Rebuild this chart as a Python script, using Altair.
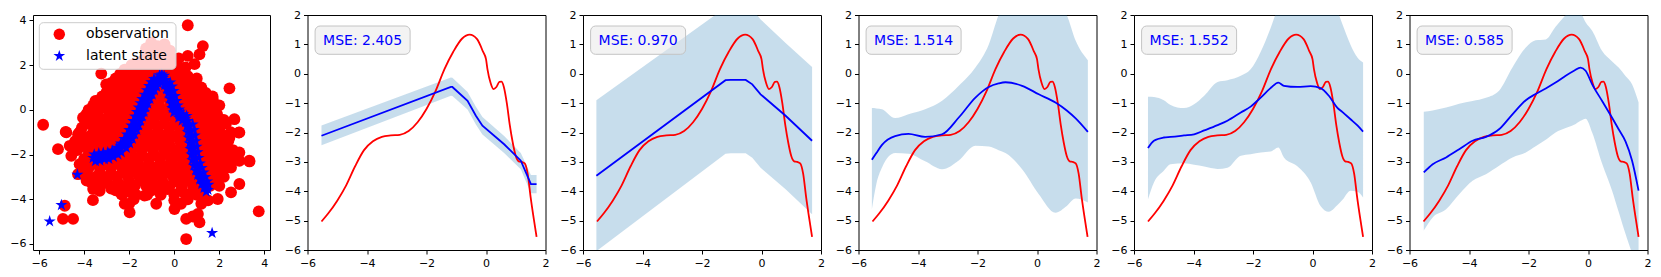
import altair as alt
import pandas as pd

FONT = "DejaVu Sans"
STAR = ("M0,-1L0.2245,-0.309L0.951,-0.309L0.363,0.118L0.588,0.809L0,0.382"
        "L-0.588,0.809L-0.363,0.118L-0.951,-0.309L-0.2245,-0.309Z")

# ---------------- shared true latent function (red) ----------------
true_x = [-5.53, -5.3, -5.0, -4.7, -4.4, -4.1, -3.8, -3.5, -3.2, -2.9, -2.6, -2.3, -2.0, -1.7,
          -1.4, -1.1, -0.8, -0.55, -0.3, -0.1, 0.0, 0.05, 0.15, 0.25, 0.35, 0.45, 0.52, 0.6,
          0.7, 0.8, 0.9, 1.0, 1.1, 1.2, 1.3, 1.4, 1.5, 1.6, 1.7]
true_y = [-5.03, -4.75, -4.32, -3.8, -3.15, -2.6, -2.3, -2.15, -2.1, -2.08, -1.95, -1.65, -1.2, -0.6,
          0.15, 0.75, 1.2, 1.33, 1.18, 0.75, 0.5, 0.15, -0.3, -0.52, -0.45, -0.28, -0.27, -0.45,
          -1.0, -1.75, -2.35, -2.8, -2.98, -3.0, -3.05, -3.4, -4.2, -4.9, -5.55]

mse_labels = ["MSE: 2.405", "MSE: 0.970", "MSE: 1.514", "MSE: 1.552", "MSE: 0.585"]

# ---------------- panel 2 ----------------
p2_x = [-5.53, -1.18, -1.13, -0.62, -0.34, -0.12, 0.61, 1.17, 1.51, 1.70]
p2_mean = [-2.11, -0.45, -0.45, -0.92, -1.43, -1.77, -2.40, -2.96, -3.76, -3.76]
p2_hi = [-1.76, -0.13, -0.14, -0.62, -1.12, -1.47, -2.12, -2.70, -3.45, -3.45]
p2_lo = [-2.43, -0.75, -0.76, -1.22, -1.73, -2.07, -2.70, -3.25, -4.07, -4.07]

# ---------------- panel 3 ----------------
p3_x = [-5.55, -1.21, -1.04, -0.53, -0.31, -0.03, 0.81, 1.70]
p3_mean = [-3.47, -0.22, -0.21, -0.21, -0.36, -0.70, -1.43, -2.28]
p3_hi = [-0.90, 2.25, 2.26, 2.26, 2.2, 1.85, 1.05, 0.23]
p3_lo = [-6.04, -2.72, -2.71, -2.71, -2.86, -3.2, -3.93, -4.78]

# ---------------- panel 4 ----------------
p4_x = [-5.55, -5.4, -5.21, -4.77, -4.32, -3.76, -3.19, -2.63, -2.07, -1.62, -1.29, -1.06,
        -0.5, 0.06, 0.62, 1.0, 1.3, 1.71]
p4_mean = [-2.93, -2.7, -2.42, -2.12, -2.05, -2.15, -2.06, -1.49, -0.81, -0.45, -0.33, -0.29,
           -0.41, -0.70, -0.98, -1.25, -1.52, -1.98]
p4_hi = [-1.17, -1.18, -1.21, -1.51, -1.38, -1.21, -0.92, -0.41, 0.21, 1.0, 2.0, 2.5,
         2.8, 2.8, 2.5, 2.0, 1.12, 0.46]
p4_lo = [-4.61, -3.75, -3.19, -2.7, -2.72, -2.98, -3.25, -2.95, -2.45, -2.48, -2.6, -2.7,
         -3.25, -4.10, -4.73, -4.5, -4.25, -4.38]

# ---------------- panel 5 ----------------
p5_x = [-5.53, -5.33, -5.0, -4.77, -4.32, -3.98, -3.64, -3.19, -2.86, -2.41, -2.08, -1.74,
        -1.41, -1.15, -0.96, -0.51, -0.06, 0.27, 0.55, 0.83, 1.0, 1.28, 1.51, 1.70]
p5_mean = [-2.53, -2.28, -2.17, -2.15, -2.10, -2.06, -1.93, -1.75, -1.6, -1.32, -1.12, -0.81,
           -0.49, -0.30, -0.41, -0.45, -0.42, -0.49, -0.75, -1.15, -1.3, -1.55, -1.76, -1.97]
p5_hi = [-0.78, -0.79, -0.9, -1.06, -1.17, -1.04, -0.75, -0.28, -0.22, -0.07, 0.15, 0.75,
         1.55, 2.3, 2.8, 3.0, 3.0, 2.8, 2.4, 2.15, 1.7, 0.98, 0.55, 0.38]
p5_lo = [-4.27, -3.7, -3.3, -3.08, -3.05, -3.1, -3.16, -3.24, -3.2, -2.79, -2.74, -2.68,
         -2.65, -2.51, -2.85, -3.15, -3.70, -4.5, -4.70, -4.48, -4.3, -3.98, -4.02, -4.21]

# ---------------- panel 6 ----------------
p6_x = [-5.52, -5.22, -4.77, -4.33, -3.88, -3.43, -2.99, -2.54, -2.09, -1.76, -1.42, -1.09,
        -0.75, -0.47, -0.25, -0.08, 0.14, 0.47, 0.81, 1.03, 1.26, 1.48, 1.70]
p6_mean = [-3.36, -3.08, -2.85, -2.57, -2.28, -2.15, -1.89, -1.38, -0.90, -0.69, -0.5, -0.3,
           -0.07, 0.10, 0.21, 0.10, -0.36, -0.92, -1.5, -1.89, -2.3, -2.95, -3.98]
p6_hi = [-1.29, -1.25, -1.15, -1.02, -0.93, -0.82, -0.58, 0.21, 0.89, 1.14, 1.17, 1.6,
         2.0, 2.3, 2.1, 1.75, 1.46, 0.78, 0.42, 0.21, -0.08, -0.36, -0.98]
p6_lo = [-5.34, -4.89, -4.61, -4.10, -3.64, -3.42, -3.13, -2.85, -2.68, -2.47, -2.25, -2.0,
         -1.85, -1.74, -1.6, -1.53, -2.0, -3.05, -3.98, -4.7, -5.45, -6.1, -6.6]

# ---------------- panel 1: observations (red) ----------------
obs_outer = [(0.60, 3.78), (1.27, 2.85), (1.12, 2.48), (0.60, 2.41), (0.90, 2.04), (2.45, 0.96),
             (1.16, 0.95), (1.71, 0.47), (2.67, -0.42), (2.00, -0.42), (2.45, -1.24), (2.89, -1.01),
             (2.38, -1.83), (2.89, -1.91), (3.34, -2.31), (2.89, -2.28), (2.52, -2.58), (2.89, -3.32),
             (2.52, -3.69), (1.93, -3.99), (1.19, -3.84), (3.75, -4.54), (1.05, -4.66), (0.53, -4.88),
             (1.12, -5.03), (0.53, -5.78), (0.01, -4.44), (-1.32, -3.84), (-1.98, -4.59), (-2.20, -4.21),
             (-2.35, -3.77), (-2.79, -3.47), (-3.31, -3.62), (-3.61, -4.04), (-3.68, -3.25), (-3.90, -2.88),
             (-4.27, -2.88), (-4.49, -4.88), (-4.94, -4.88), (-4.86, -4.29), (-5.82, -0.67), (-5.16, -1.76),
             (-4.79, -1.01), (-4.64, -1.61), (-4.57, -2.06), (-4.20, -2.43), (-3.98, -0.42), (-4.27, -1.09),
             (-3.24, 1.62), (-3.02, 1.14), (-2.65, 1.00), (-3.39, 0.40), (-3.75, -0.05), (-4.05, -0.35),
             (-2.06, 1.00), (-1.47, 1.44), (-1.02, 3.00), (-0.73, 2.85), (-0.43, 2.93), (-1.17, 2.48),
             (-1.76, 2.04), (0.01, 2.26), (0.82, -4.77), (2.86, -1.02), (3.33, -2.28), (1.78, -0.12),
             (-4.82, -0.99), (-3.83, -0.61), (-1.98, 1.59), (-4.2, -1.46), (-3.98, -2.58), (-3.89, -3.17),
             (-3.6, -3.54), (-3.24, -3.32), (-2.8, -3.52), (-1.47, 2.11), (-0.2, 2.65), (-1.25, 2.75),
             (-0.9, 2.6)]
obs_upper = [(-1.2, 2.4), (-0.8, 2.35), (-0.5, 2.45), (0.2, 2.3),
             (-1.9, 2.0), (-1.5, 1.95), (-1.1, 2.05), (-0.7, 2.0), (-0.3, 1.95), (0.1, 2.0), (0.5, 1.9),
             (-2.4, 1.6), (-2.0, 1.55), (-1.6, 1.65), (-1.2, 1.6), (-0.9, 1.55), (-0.2, 1.6), (0.2, 1.6),
             (0.6, 1.5), (-2.8, 1.2), (-2.4, 1.25), (-2.0, 1.2), (-1.6, 1.15), (-1.3, 1.2), (0.0, 1.2),
             (0.4, 1.2), (0.8, 1.25),
             (-3.0, 0.8), (-2.6, 0.75), (-2.2, 0.8), (-1.8, 0.85), (-1.5, 0.8), (-1.0, 0.75), (-0.5, 0.8),
             (0.1, 0.8), (0.5, 0.85), (0.9, 0.8), (1.4, 0.75),
             (-3.5, 0.4), (-3.0, 0.35), (-2.6, 0.4), (-2.2, 0.45), (-1.9, 0.4), (-1.2, 0.35), (-0.7, 0.4),
             (-0.2, 0.4), (0.3, 0.45), (0.7, 0.4), (1.1, 0.35), (1.5, 0.4)]
obs_middle = [(-3.8, 0.0), (-3.3, 0.05), (-2.8, 0.0), (-2.4, -0.05), (-2.0, 0.0), (-1.5, 0.05), (-1.0, 0.0),
              (-0.4, -0.05), (0.1, 0.0), (0.6, 0.05), (1.0, 0.0), (1.4, -0.05), (1.8, 0.1),
              (-3.6, -0.4), (-3.1, -0.45), (-2.7, -0.4), (-2.3, -0.35), (-1.9, -0.4), (-1.4, -0.45),
              (-0.9, -0.4), (-0.4, -0.35), (0.0, -0.4), (0.5, -0.45), (0.9, -0.4), (1.3, -0.35),
              (1.7, -0.4), (2.2, -0.45),
              (-4.1, -0.8), (-3.5, -0.85), (-3.0, -0.8), (-2.6, -0.75), (-2.2, -0.8), (-1.7, -0.85),
              (-1.2, -0.8), (-0.7, -0.75), (-0.2, -0.8), (0.3, -0.85), (0.8, -0.8), (1.2, -0.75),
              (1.6, -0.8), (2.0, -0.85),
              (-3.8, -1.2), (-3.3, -1.25), (-2.9, -1.2), (-2.5, -1.15), (-2.0, -1.2), (-1.5, -1.25),
              (-1.0, -1.2), (-0.5, -1.15), (0.0, -1.2), (0.5, -1.25), (1.0, -1.2), (1.4, -1.15),
              (1.8, -1.2), (2.2, -1.25),
              (-4.0, -1.6), (-3.5, -1.65), (-3.0, -1.6), (-2.6, -1.55), (-2.2, -1.6), (-1.7, -1.65),
              (-1.2, -1.6), (-0.7, -1.55), (-0.2, -1.6), (0.3, -1.65), (0.8, -1.6), (1.2, -1.55),
              (1.6, -1.6), (2.0, -1.65)]
obs_lower = [(-3.8, -2.0), (-3.2, -2.05), (-2.8, -2.0), (-2.3, -1.95), (-1.9, -2.0), (-1.4, -2.05),
             (-0.9, -2.0), (-0.4, -1.95), (0.1, -2.0), (0.6, -2.05), (1.0, -2.0), (1.5, -1.95),
             (1.9, -2.0), (2.3, -2.05),
             (-3.6, -2.4), (-3.0, -2.45), (-2.5, -2.4), (-2.0, -2.35), (-1.6, -2.4), (-1.1, -2.45),
             (-0.6, -2.4), (-0.1, -2.35), (0.4, -2.4), (0.9, -2.45), (1.3, -2.4), (1.7, -2.35), (2.1, -2.4),
             (-3.3, -2.8), (-2.8, -2.85), (-2.3, -2.8), (-1.8, -2.75), (-1.3, -2.8), (-0.8, -2.85),
             (-0.3, -2.8), (0.2, -2.75), (0.7, -2.8), (1.1, -2.85), (1.6, -2.8), (2.0, -2.75),
             (-3.0, -3.2), (-2.5, -3.25), (-2.0, -3.2), (-1.5, -3.15), (-1.0, -3.2), (-0.5, -3.25),
             (0.1, -3.2), (0.6, -3.15), (1.0, -3.2), (1.4, -3.25), (1.8, -3.2),
             (-2.6, -3.6), (-2.0, -3.65), (-1.0, -3.6), (-0.3, -3.55), (0.3, -3.6), (0.8, -3.65), (1.3, -3.6),
             (-1.8, -4.0), (0.0, -4.05), (0.6, -4.0), (1.5, -4.05)]
obs_fill_top = [(-1.4, 2.2), (-1.0, 2.2), (-0.6, 2.2), (-0.2, 2.2),
                (-2.2, 1.8), (-1.75, 1.8), (-1.3, 1.8), (-0.9, 1.8), (-0.5, 1.8), (-0.1, 1.8), (0.3, 1.8),
                (-2.6, 1.4), (-2.2, 1.4), (-1.8, 1.4), (-1.4, 1.4), (-1.0, 1.4), (-0.6, 1.4), (-0.2, 1.4),
                (0.2, 1.4), (0.6, 1.4), (1.0, 1.4),
                (-2.9, 1.0), (-2.5, 1.0), (-2.1, 1.0), (-1.7, 1.0), (-1.3, 1.0), (-0.8, 1.0), (-0.3, 1.0),
                (0.2, 1.0), (0.7, 1.0), (1.2, 1.0),
                (-3.2, 0.6), (-2.8, 0.6), (-2.4, 0.6), (-2.0, 0.6), (-1.6, 0.6), (-1.1, 0.6), (-0.6, 0.6),
                (-0.1, 0.6), (0.4, 0.6), (0.8, 0.6), (1.2, 0.6), (1.7, 0.6),
                (-3.6, 0.2), (-3.1, 0.2), (-2.6, 0.2), (-2.2, 0.2), (-1.7, 0.2), (-1.2, 0.2), (-0.7, 0.2),
                (-0.2, 0.2), (0.3, 0.2), (0.8, 0.2), (1.2, 0.2), (1.6, 0.2), (2.0, 0.2),
                (-3.9, -0.2), (-3.4, -0.2), (-2.9, -0.2), (-2.5, -0.2), (-2.1, -0.2), (-1.6, -0.2),
                (-1.1, -0.2), (-0.6, -0.2), (-0.2, -0.2), (0.3, -0.2), (0.7, -0.2), (1.1, -0.2),
                (1.5, -0.2), (1.9, -0.2)]
obs_fill_mid = [(-3.8, -0.6), (-3.3, -0.6), (-2.8, -0.6), (-2.4, -0.6), (-1.95, -0.6), (-1.45, -0.6),
                (-0.95, -0.6), (-0.45, -0.6), (0.05, -0.6), (0.55, -0.6), (1.0, -0.6), (1.4, -0.6),
                (1.8, -0.6), (2.3, -0.6),
                (-4.2, -1.0), (-3.6, -1.0), (-3.1, -1.0), (-2.7, -1.0), (-2.25, -1.0), (-1.75, -1.0),
                (-1.25, -1.0), (-0.75, -1.0), (-0.25, -1.0), (0.25, -1.0), (0.75, -1.0), (1.2, -1.0),
                (1.6, -1.0), (2.0, -1.0), (2.5, -1.0),
                (-4.4, -1.4), (-3.9, -1.4), (-3.5, -1.4), (-3.1, -1.4), (-2.7, -1.4), (-2.3, -1.4),
                (-1.8, -1.4), (-1.3, -1.4), (-0.8, -1.4), (-0.3, -1.4), (0.25, -1.4), (0.75, -1.4),
                (1.2, -1.4), (1.6, -1.4), (2.0, -1.4), (2.4, -1.4),
                (-4.3, -1.8), (-3.8, -1.8), (-3.3, -1.8), (-2.8, -1.8), (-2.4, -1.8), (-1.95, -1.8),
                (-1.45, -1.8), (-0.95, -1.8), (-0.45, -1.8), (0.05, -1.8), (0.55, -1.8), (1.0, -1.8),
                (1.4, -1.8), (1.8, -1.8), (2.2, -1.8), (2.6, -1.8)]
obs_fill_low = [(-4.0, -2.2), (-3.4, -2.2), (-2.9, -2.2), (-2.5, -2.2), (-2.1, -2.2), (-1.65, -2.2),
                (-1.15, -2.2), (-0.65, -2.2), (-0.15, -2.2), (0.35, -2.2), (0.8, -2.2), (1.2, -2.2),
                (1.6, -2.2), (2.0, -2.2), (2.5, -2.2),
                (-3.8, -2.6), (-3.3, -2.6), (-2.8, -2.6), (-2.3, -2.6), (-1.9, -2.6), (-1.4, -2.6),
                (-0.9, -2.6), (-0.4, -2.6), (0.1, -2.6), (0.6, -2.6), (1.0, -2.6), (1.5, -2.6),
                (1.9, -2.6), (2.3, -2.6),
                (-3.5, -3.0), (-3.0, -3.0), (-2.55, -3.0), (-2.05, -3.0), (-1.55, -3.0), (-1.05, -3.0),
                (-0.55, -3.0), (-0.05, -3.0), (0.45, -3.0), (0.9, -3.0), (1.3, -3.0), (1.7, -3.0),
                (2.2, -3.0),
                (-3.3, -3.4), (-2.8, -3.4), (-2.3, -3.4), (-1.75, -3.4), (-1.25, -3.4), (-0.75, -3.4),
                (-0.2, -3.4), (0.35, -3.4), (0.85, -3.4), (1.2, -3.4), (1.6, -3.4), (2.0, -3.4),
                (-2.3, -3.8), (-1.7, -3.8), (-1.2, -3.8), (-0.6, -3.8), (0.0, -3.8), (0.5, -3.8), (1.0, -3.8),
                (-2.0, -4.2), (-0.8, -4.2), (0.3, -4.2), (1.2, -4.2)]

# ---------------- panel 1: latent states (blue stars) ----------------
star_rise = [(-3.6, -2.15), (-3.45, -2.12), (-3.25, -2.1), (-3.05, -2.06), (-2.85, -2.02), (-2.65, -1.93),
             (-2.45, -1.8), (-3.55, -2.0), (-3.35, -1.95), (-3.15, -1.92), (-2.95, -1.9), (-2.75, -1.82),
             (-2.55, -1.7), (-2.4, -1.6), (-3.5, -2.3), (-3.3, -2.27), (-3.1, -2.22), (-2.9, -2.2),
             (-2.7, -2.1), (-2.5, -2.0), (-2.35, -1.9),
             (-2.25, -1.6), (-2.1, -1.4), (-1.98, -1.2), (-1.88, -1.0), (-1.78, -0.8), (-1.7, -0.6),
             (-1.62, -0.4), (-1.54, -0.2), (-1.46, 0.0), (-1.38, 0.2), (-1.3, 0.38), (-1.2, 0.58),
             (-1.1, 0.78), (-1.0, 0.97), (-0.9, 1.13), (-0.8, 1.28),
             (-2.37, -1.5), (-2.22, -1.3), (-2.1, -1.1), (-2.0, -0.9), (-1.9, -0.7), (-1.82, -0.5),
             (-1.74, -0.3), (-1.66, -0.1), (-1.58, 0.1), (-1.5, 0.3), (-1.42, 0.48), (-1.32, 0.68),
             (-1.22, 0.88), (-1.12, 1.07), (-1.02, 1.23), (-0.9, 1.38),
             (-2.13, -1.7), (-1.98, -1.5), (-1.86, -1.3), (-1.76, -1.1), (-1.66, -0.9), (-1.58, -0.7),
             (-1.5, -0.5), (-1.42, -0.3), (-1.34, -0.1), (-1.26, 0.1), (-1.18, 0.28), (-1.08, 0.48),
             (-0.98, 0.68), (-0.88, 0.87), (-0.78, 1.03), (-0.7, 1.18)]
star_fall = [(-0.7, 1.4), (-0.6, 1.45), (-0.5, 1.42), (-0.4, 1.33), (-0.65, 1.55), (-0.55, 1.58),
             (-0.45, 1.52), (-0.6, 1.28), (-0.5, 1.27), (-0.42, 1.18),
             (-0.3, 1.18), (-0.22, 1.0), (-0.15, 0.8), (-0.08, 0.58), (-0.02, 0.35), (0.03, 0.15),
             (0.1, -0.05), (-0.18, 1.22), (-0.1, 1.04), (-0.03, 0.84), (0.04, 0.62), (0.1, 0.4),
             (0.16, 0.2), (0.22, 0.02), (-0.42, 1.1), (-0.34, 0.92), (-0.27, 0.72), (-0.2, 0.5),
             (-0.14, 0.28), (-0.09, 0.08), (-0.02, -0.12),
             (0.2, -0.2), (0.3, -0.3), (0.4, -0.35), (0.5, -0.4), (0.6, -0.5), (0.25, -0.08),
             (0.4, -0.2), (0.55, -0.27), (0.2, -0.35), (0.35, -0.48), (0.5, -0.55), (0.62, -0.65),
             (0.68, -0.7), (0.73, -0.95), (0.77, -1.2), (0.81, -1.45), (0.85, -1.7), (0.89, -1.95),
             (0.94, -2.2), (1.0, -2.45), (1.08, -2.65), (1.16, -2.85), (1.25, -3.05), (1.34, -3.25),
             (1.43, -3.42), (1.5, -3.58),
             (0.82, -0.65), (0.87, -0.9), (0.91, -1.15), (0.95, -1.4), (0.99, -1.65), (1.03, -1.9),
             (1.08, -2.15), (1.14, -2.4), (1.22, -2.6), (1.3, -2.8), (1.38, -3.0), (1.46, -3.2),
             (1.52, -3.35),
             (0.55, -0.75), (0.6, -1.0), (0.64, -1.25), (0.68, -1.5), (0.72, -1.75), (0.76, -2.0),
             (0.8, -2.25), (0.87, -2.5), (0.95, -2.72), (1.04, -2.92), (1.13, -3.12), (1.22, -3.32),
             (1.32, -3.5), (1.42, -3.66)]
star_outliers = [(-4.30, -2.90), (-5.01, -4.26), (-5.53, -4.99), (1.68, -5.51)]

legend_labels = ["observation", "latent state"]

# ---------------- styles ----------------
RED = "#ff0000"
BLUE = "#0000ff"
BAND = "#1f77b4"
PLOT_H = 235
LW = 1.8


def curve_panel(bx, mean, hi, lo, label, interp):
    xs = alt.Scale(domain=[-6, 2], nice=False, zero=False)
    ys = alt.Scale(domain=[-6, 2], nice=False, zero=False)
    xax = alt.Axis(values=[-6, -4, -2, 0, 2], title=None, labelFlush=False, labelOverlap=False)
    yax = alt.Axis(values=[-6, -5, -4, -3, -2, -1, 0, 1, 2], title=None, labelFlush=False,
                   labelOverlap=False)
    band_df = pd.DataFrame({"x": bx, "lo": lo, "hi": hi, "m": mean})
    true_df = pd.DataFrame({"x": true_x, "y": true_y})
    band = alt.Chart(band_df).mark_area(color=BAND, opacity=0.25, interpolate=interp, clip=True).encode(
        x=alt.X("x:Q", scale=xs, axis=xax),
        y=alt.Y("lo:Q", scale=ys, axis=yax),
        y2="hi:Q",
    )
    red = alt.Chart(true_df).mark_line(color=RED, strokeWidth=LW, interpolate="monotone", clip=True).encode(
        x=alt.X("x:Q", scale=xs, axis=xax),
        y=alt.Y("y:Q", scale=ys, axis=yax),
    )
    blue = alt.Chart(band_df).mark_line(color=BLUE, strokeWidth=LW, interpolate=interp, clip=True).encode(
        x=alt.X("x:Q", scale=xs, axis=xax),
        y=alt.Y("m:Q", scale=ys, axis=yax),
    )
    lab_df = pd.DataFrame({"t": [label]})
    box = alt.Chart(lab_df).mark_rect(
        fill="#e8e8e8", fillOpacity=0.5, stroke="#c4c4c4", strokeWidth=1, cornerRadius=5
    ).encode(x=alt.value(7.6), x2=alt.value(102.6), y=alt.value(11), y2=alt.value(39.3))
    txt = alt.Chart(lab_df).mark_text(
        align="left", baseline="alphabetic", font=FONT, fontSize=14, color=BLUE
    ).encode(x=alt.value(15.6), y=alt.value(30.3), text="t:N")
    return alt.layer(band, red, blue, box, txt).properties(width=238, height=PLOT_H)


def scatter_panel():
    xs = alt.Scale(domain=[-6.27, 4.25], nice=False, zero=False)
    ys = alt.Scale(domain=[-6.27, 4.24], nice=False, zero=False)
    xax = alt.Axis(values=[-6, -4, -2, 0, 2, 4], title=None, labelFlush=False, labelOverlap=False)
    yax = alt.Axis(values=[-6, -4, -2, 0, 2, 4], title=None, labelFlush=False, labelOverlap=False)
    obs = (obs_outer + obs_upper + obs_middle + obs_lower
           + obs_fill_top + obs_fill_mid + obs_fill_low)
    obs_df = pd.DataFrame({"x": [p[0] for p in obs], "y": [p[1] for p in obs]})
    stars = star_rise + star_fall + star_outliers
    star_df = pd.DataFrame({"x": [p[0] for p in stars], "y": [p[1] for p in stars]})
    red = alt.Chart(obs_df).mark_point(shape="circle", filled=True, color=RED, opacity=1, size=140,
                                       clip=True).encode(
        x=alt.X("x:Q", scale=xs, axis=xax), y=alt.Y("y:Q", scale=ys, axis=yax))
    st = alt.Chart(star_df).mark_point(shape=STAR, filled=True, color=BLUE, opacity=1, size=160,
                                       clip=True).encode(
        x=alt.X("x:Q", scale=xs, axis=xax), y=alt.Y("y:Q", scale=ys, axis=yax))
    leg_df = pd.DataFrame({"t": legend_labels[:1]})
    leg_box = alt.Chart(leg_df).mark_rect(
        fill="#ffffff", fillOpacity=0.8, stroke="#cccccc", strokeWidth=1, cornerRadius=4
    ).encode(x=alt.value(6.3), x2=alt.value(143), y=alt.value(7.7), y2=alt.value(54.3))
    leg_c = alt.Chart(pd.DataFrame({"t": legend_labels[:1]})).mark_point(
        shape="circle", filled=True, color=RED, opacity=1, size=130
    ).encode(x=alt.value(26.3), y=alt.value(19.3))
    leg_s = alt.Chart(pd.DataFrame({"t": legend_labels[1:]})).mark_point(
        shape=STAR, filled=True, color=BLUE, opacity=1, size=150
    ).encode(x=alt.value(26.3), y=alt.value(41))
    leg_t1 = alt.Chart(pd.DataFrame({"t": legend_labels[:1]})).mark_text(
        align="left", baseline="middle", font=FONT, fontSize=14, color="#000000"
    ).encode(x=alt.value(53), y=alt.value(19.3), text="t:N")
    leg_t2 = alt.Chart(pd.DataFrame({"t": legend_labels[1:]})).mark_text(
        align="left", baseline="middle", font=FONT, fontSize=14, color="#000000"
    ).encode(x=alt.value(53), y=alt.value(41), text="t:N")
    return alt.layer(red, st, leg_box, leg_c, leg_s, leg_t1, leg_t2).properties(width=237, height=PLOT_H)


panels = [scatter_panel(),
          curve_panel(p2_x, p2_mean, p2_hi, p2_lo, mse_labels[0], "linear"),
          curve_panel(p3_x, p3_mean, p3_hi, p3_lo, mse_labels[1], "linear"),
          curve_panel(p4_x, p4_mean, p4_hi, p4_lo, mse_labels[2], "monotone"),
          curve_panel(p5_x, p5_mean, p5_hi, p5_lo, mse_labels[3], "monotone"),
          curve_panel(p6_x, p6_mean, p6_hi, p6_lo, mse_labels[4], "monotone")]

chart = alt.hconcat(*panels, spacing=37.5, bounds="flush").properties(
    padding={"left": 1, "top": 0, "right": 0, "bottom": 0}
).configure_view(
    stroke="#000000", strokeWidth=1
).configure_axis(
    labelFont=FONT, labelFontSize=11, labelColor="#000000", tickColor="#000000",
    tickSize=4, tickWidth=1, labelPadding=3, domain=False, grid=False
)

chart.save("out.html", embed_options={"renderer": "svg", "actions": False})
